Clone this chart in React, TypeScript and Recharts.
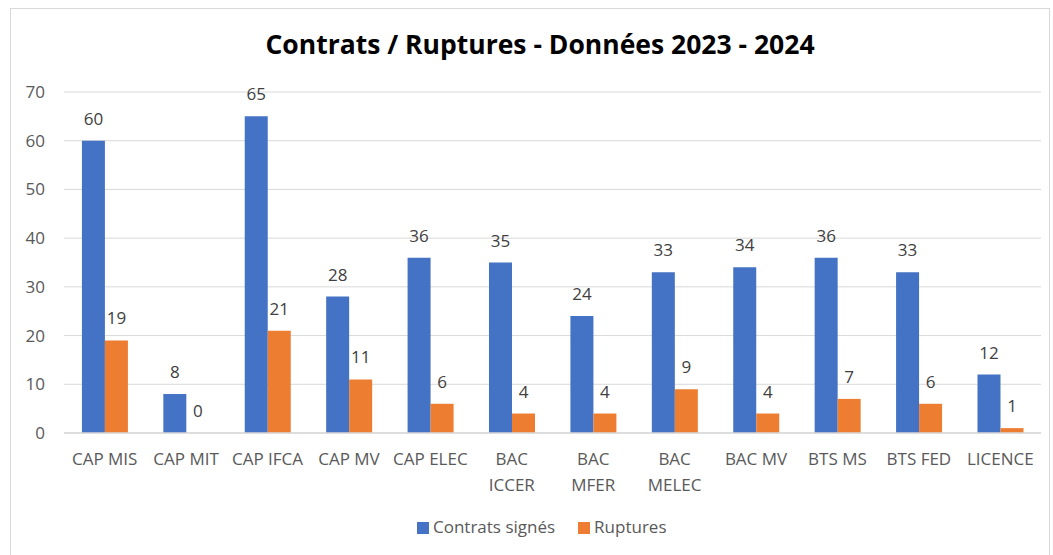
import * as React from 'react';
import { BarChart, Bar, XAxis, YAxis, CartesianGrid, Legend, LabelList } from 'recharts';

// Données 2023 - 2024
const categories = [
  'CAP MIS',
  'CAP MIT',
  'CAP IFCA',
  'CAP MV',
  'CAP ELEC',
  'BAC\nICCER',
  'BAC\nMFER',
  'BAC\nMELEC',
  'BAC MV',
  'BTS MS',
  'BTS FED',
  'LICENCE',
];
const contratsSignes = [60, 8, 65, 28, 36, 35, 24, 33, 34, 36, 33, 12];
const ruptures = [19, 0, 21, 11, 6, 4, 4, 9, 4, 7, 6, 1];
const yTicks = [0, 10, 20, 30, 40, 50, 60, 70];

const data = categories.map((name, i) => ({
  name,
  contrats: contratsSignes[i],
  ruptures: ruptures[i],
}));

const FONT = '"Open Sans", sans-serif';
const TEXT = '#595959';

function CategoryTick(props: any) {
  const { x, y, payload } = props;
  const lines = String(payload.value).split('\n');
  return (
    <text x={x} y={y} textAnchor="middle" fill={TEXT} fontSize={17} fontFamily={FONT}>
      {lines.map((l, i) => (
        <tspan key={i} x={x} dy={i === 0 ? 32 : 26}>
          {l}
        </tspan>
      ))}
    </text>
  );
}

export default function App() {
  return (
    <div style={{ position: 'absolute', left: 0, top: 0, width: 1053, height: 555, background: '#fff', overflow: 'hidden' }}>
      <div
        style={{
          position: 'absolute',
          left: 10,
          top: 8,
          width: 1040,
          height: 560,
          border: '1px solid #d9d9d9',
          boxSizing: 'border-box',
        }}
      />
      <div
        style={{
          position: 'absolute',
          left: 0,
          top: 26,
          width: 1080,
          textAlign: 'center',
          fontFamily: FONT,
          fontWeight: 700,
          fontSize: 26.5,
          color: '#000',
        }}
      >
        Contrats / Ruptures - Données 2023 - 2024
      </div>
      <div style={{ position: 'absolute', left: 0, top: 0 }}>
        <BarChart
          width={1053}
          height={555}
          data={data}
          margin={{ top: 92, right: 12, left: 14, bottom: 16 }}
          barGap={0}
          barCategoryGap="22%"
        >
          <CartesianGrid vertical={false} stroke="#d9d9d9" strokeWidth={1} />
          <XAxis
            dataKey="name"
            axisLine={{ stroke: '#d9d9d9', strokeWidth: 1.5 }}
            tickLine={false}
            tickSize={0}
            tickMargin={0}
            interval={0}
            height={82}
            tick={<CategoryTick />}
          />
          <YAxis
            width={50}
            domain={[0, 70]}
            ticks={yTicks}
            axisLine={false}
            tickLine={false}
            tickSize={0}
            tickMargin={19}
            tick={{ fill: TEXT, fontSize: 17, fontFamily: FONT }}
          />
          <Legend
            verticalAlign="bottom"
            align="left"
            height={24}
            iconType="square"
            iconSize={12}
            wrapperStyle={{ fontFamily: FONT, fontSize: 17, left: 417, width: 'auto' }}
            formatter={(value, entry, index) => (
              <span style={{ color: TEXT, marginRight: index === 0 ? 13 : 0 }}>{value}</span>
            )}
          />
          <Bar dataKey="contrats" name="Contrats signés" fill="#4472c4" isAnimationActive={false}>
            <LabelList dataKey="contrats" position="top" offset={16} fill="#404040" fontSize={17} fontFamily={FONT} />
          </Bar>
          <Bar dataKey="ruptures" name="Ruptures" fill="#ed7d31" minPointSize={0.01} isAnimationActive={false}>
            <LabelList dataKey="ruptures" position="top" offset={16} fill="#404040" fontSize={17} fontFamily={FONT} />
          </Bar>
        </BarChart>
      </div>
    </div>
  );
}
